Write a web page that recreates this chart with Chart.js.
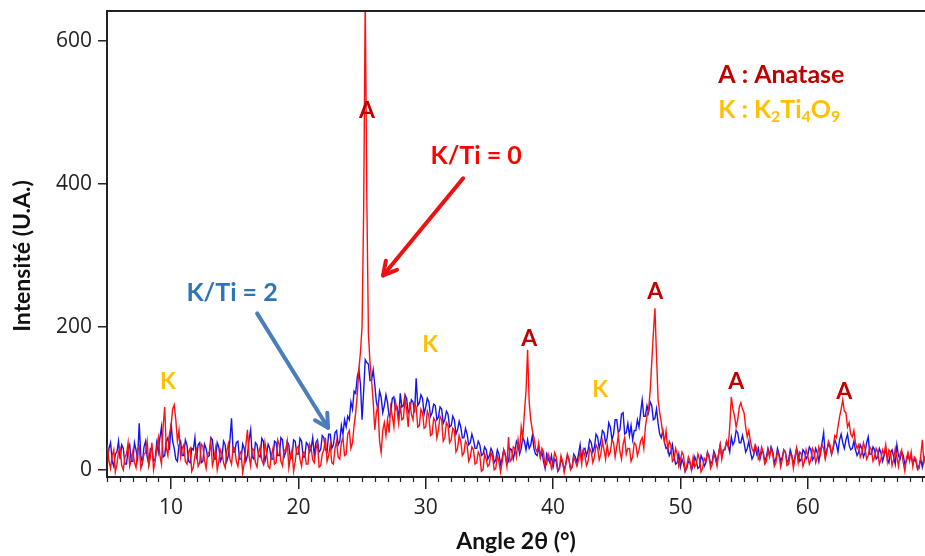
<!DOCTYPE html>
<html><head><meta charset="utf-8">
<script src="https://cdn.jsdelivr.net/npm/chart.js@4/dist/chart.umd.min.js"></script>
<style>html,body{margin:0;padding:0;background:#fff}#wrap{width:925px;height:556px;position:relative}</style>
</head><body><div id="wrap"><canvas id="c"></canvas></div>
<script>
// ---- data (2θ scan, degrees) ----
const angles = [
5,5.125,5.25,5.375,5.5,5.625,5.75,5.875, 6,6.125,6.25,6.375,6.5,6.625,6.75,6.875,
7,7.125,7.25,7.375,7.5,7.625,7.75,7.875, 8,8.125,8.25,8.375,8.5,8.625,8.75,8.875,
9,9.125,9.25,9.375,9.5,9.625,9.75,9.875, 10,10.125,10.25,10.375,10.5,10.625,10.75,10.875,
11,11.125,11.25,11.375,11.5,11.625,11.75,11.875, 12,12.125,12.25,12.375,12.5,12.625,12.75,12.875,
13,13.125,13.25,13.375,13.5,13.625,13.75,13.875, 14,14.125,14.25,14.375,14.5,14.625,14.75,14.875,
15,15.125,15.25,15.375,15.5,15.625,15.75,15.875, 16,16.125,16.25,16.375,16.5,16.625,16.75,16.875,
17,17.125,17.25,17.375,17.5,17.625,17.75,17.875, 18,18.125,18.25,18.375,18.5,18.625,18.75,18.875,
19,19.125,19.25,19.375,19.5,19.625,19.75,19.875, 20,20.125,20.25,20.375,20.5,20.625,20.75,20.875,
21,21.125,21.25,21.375,21.5,21.625,21.75,21.875, 22,22.125,22.25,22.375,22.5,22.625,22.75,22.875,
23,23.125,23.25,23.375,23.5,23.625,23.75,23.875, 24,24.125,24.25,24.375,24.5,24.625,24.75,24.875,
25,25.125,25.25,25.375,25.5,25.625,25.75,25.875, 26,26.125,26.25,26.375,26.5,26.625,26.75,26.875,
27,27.125,27.25,27.375,27.5,27.625,27.75,27.875, 28,28.125,28.25,28.375,28.5,28.625,28.75,28.875,
29,29.125,29.25,29.375,29.5,29.625,29.75,29.875, 30,30.125,30.25,30.375,30.5,30.625,30.75,30.875,
31,31.125,31.25,31.375,31.5,31.625,31.75,31.875, 32,32.125,32.25,32.375,32.5,32.625,32.75,32.875,
33,33.125,33.25,33.375,33.5,33.625,33.75,33.875, 34,34.125,34.25,34.375,34.5,34.625,34.75,34.875,
35,35.125,35.25,35.375,35.5,35.625,35.75,35.875, 36,36.125,36.25,36.375,36.5,36.625,36.75,36.875,
37,37.125,37.25,37.375,37.5,37.625,37.75,37.875, 38,38.125,38.25,38.375,38.5,38.625,38.75,38.875,
39,39.125,39.25,39.375,39.5,39.625,39.75,39.875, 40,40.125,40.25,40.375,40.5,40.625,40.75,40.875,
41,41.125,41.25,41.375,41.5,41.625,41.75,41.875, 42,42.125,42.25,42.375,42.5,42.625,42.75,42.875,
43,43.125,43.25,43.375,43.5,43.625,43.75,43.875, 44,44.125,44.25,44.375,44.5,44.625,44.75,44.875,
45,45.125,45.25,45.375,45.5,45.625,45.75,45.875, 46,46.125,46.25,46.375,46.5,46.625,46.75,46.875,
47,47.125,47.25,47.375,47.5,47.625,47.75,47.875, 48,48.125,48.25,48.375,48.5,48.625,48.75,48.875,
49,49.125,49.25,49.375,49.5,49.625,49.75,49.875, 50,50.125,50.25,50.375,50.5,50.625,50.75,50.875,
51,51.125,51.25,51.375,51.5,51.625,51.75,51.875, 52,52.125,52.25,52.375,52.5,52.625,52.75,52.875,
53,53.125,53.25,53.375,53.5,53.625,53.75,53.875, 54,54.125,54.25,54.375,54.5,54.625,54.75,54.875,
55,55.125,55.25,55.375,55.5,55.625,55.75,55.875, 56,56.125,56.25,56.375,56.5,56.625,56.75,56.875,
57,57.125,57.25,57.375,57.5,57.625,57.75,57.875, 58,58.125,58.25,58.375,58.5,58.625,58.75,58.875,
59,59.125,59.25,59.375,59.5,59.625,59.75,59.875, 60,60.125,60.25,60.375,60.5,60.625,60.75,60.875,
61,61.125,61.25,61.375,61.5,61.625,61.75,61.875, 62,62.125,62.25,62.375,62.5,62.625,62.75,62.875,
63,63.125,63.25,63.375,63.5,63.625,63.75,63.875, 64,64.125,64.25,64.375,64.5,64.625,64.75,64.875,
65,65.125,65.25,65.375,65.5,65.625,65.75,65.875, 66,66.125,66.25,66.375,66.5,66.625,66.75,66.875,
67,67.125,67.25,67.375,67.5,67.625,67.75,67.875, 68,68.125,68.25,68.375,68.5,68.625,68.75,68.875,
69,69.125,69.25
];
// K/Ti = 0 (red trace)
const intensityKTi0 = [
35,12,2,20,28,-3,8,25, 30,6,0,18,22,38,5,14,
26,10,3,30,33,2,10,22, 24,40,6,18,38,0,12,30,
45,20,8,60,88,30,20,50, 62,85,91,70,40,55,18,30,
35,12,8,25,30,-2,4,20, 28,5,10,36,33,14,2,22,
25,40,6,15,30,0,12,28, 22,10,3,26,36,15,8,32,
30,12,5,22,26,-4,10,35, 56,20,6,30,28,10,4,24,
32,14,8,38,25,5,2,20, 30,8,10,42,35,12,6,28,
26,40,3,18,28,-2,12,30, 33,15,5,25,24,8,8,36,
30,14,10,28,38,4,6,22, 28,45,12,20,35,10,8,30,
40,18,15,38,45,20,22,50, 55,30,38,62,80,105,140,165,
200,360,660,380,190,150,125,95, 56,80,90,40,24,55,66,48,
70,52,88,75,60,95,84,65, 90,70,72,100,84,60,95,78,
70,92,88,60,62,85,80,58, 60,82,75,48,50,72,68,45,
56,75,70,40,45,66,62,38, 42,58,55,25,30,48,40,20,
24,40,35,12,18,32,28,8, 10,25,20,-2,0,22,15,5,
8,24,18,0,2,20,12,-3, 10,28,20,5,46,12,15,32,
30,18,42,25,60,45,80,110, 168,95,70,55,45,30,25,38,
18,30,25,5,8,22,15,2, 10,24,18,0,2,20,12,-4,
8,22,15,0,4,18,12,5, 14,25,8,28,20,6,12,30,
25,10,18,35,30,14,22,40, 28,15,35,20,25,42,38,18,
32,48,26,15,36,45,22,30, 30,12,18,38,35,20,28,40,
45,30,60,75,84,110,150,190, 226,160,98,80,66,50,40,55,
28,40,35,12,15,30,22,5, 14,25,20,-2,5,18,12,0,
18,4,8,22,15,-3,2,16, 12,24,20,2,8,22,15,5,
22,35,15,28,30,40,32,60, 102,85,75,60,70,88,94,85,
80,60,46,55,40,30,25,35, 30,15,18,32,25,8,12,28,
18,30,22,5,10,25,20,4, 14,28,25,6,8,22,20,2,
16,30,10,25,22,5,12,28, 20,8,14,30,25,10,18,32,
22,35,30,15,25,40,35,22, 32,48,45,60,74,85,98,82,
80,60,66,50,46,55,38,30, 35,18,24,38,30,15,20,32,
28,12,18,30,25,8,15,28, 22,35,12,28,25,6,15,30,
18,5,22,28,10,-2,16,24, 12,25,5,18,15,0,2,20,
42,10,20
];
// K/Ti = 2 (blue trace)
const intensityKTi2 = [
10,30,38,12,5,22,25,40, 15,35,30,8,8,28,35,12,
12,38,28,15,65,20,10,32, 40,18,8,30,30,12,15,38,
25,45,60,18,20,40,45,28, 65,40,30,15,12,35,40,20,
20,42,35,12,10,30,28,45, 15,35,38,10,12,36,30,18,
20,45,42,15,15,38,32,12, 18,40,35,12,20,42,72,25,
25,38,40,15,15,36,30,12, 20,42,56,18,15,38,35,20,
18,44,40,12,22,36,30,15, 15,40,38,20,20,45,42,18,
25,40,35,15,18,42,40,22, 22,44,40,18,18,38,35,25,
30,45,20,38,42,25,28,48, 45,28,25,50,50,30,35,52,
55,35,40,62,50,70,60,75, 70,95,85,110,107,130,140,120,
70,110,154,150,148,125,126,140, 119,95,84,110,102,80,90,105,
94,75,80,100,102,85,88,70, 107,88,90,105,100,80,85,98,
95,80,128,90,94,105,100,78, 88,100,95,75,80,92,90,70,
74,88,85,65,70,82,78,60, 62,75,70,50,56,68,60,45,
45,58,50,35,38,50,42,30, 30,40,35,20,22,32,28,15,
20,30,25,10,14,28,22,8, 16,28,22,8,12,30,28,15,
25,40,35,22,30,45,40,28, 42,30,35,48,30,22,20,32,
18,25,12,2,22,15,10,20, 4,15,12,-2,2,14,10,0,
8,20,14,2,4,22,18,10, 22,35,15,28,30,20,28,42,
38,25,32,50,46,30,40,55, 52,38,45,66,60,42,50,70,
70,52,56,78,80,50,52,65, 48,62,42,55,55,70,60,80,
98,75,75,90,80,95,90,70, 72,85,65,50,45,55,38,30,
32,20,25,35,18,8,10,22, 4,15,8,-2,2,12,10,0,
6,18,12,2,4,20,15,5, 10,25,18,8,12,26,20,10,
22,35,18,28,28,40,35,25, 46,35,40,55,52,38,38,48,
38,25,30,40,25,15,20,32, 22,30,15,25,25,12,18,30,
20,32,26,10,15,30,22,12, 18,28,24,10,14,28,20,8,
18,30,22,12,15,28,25,15, 20,32,28,14,18,30,24,12,
26,38,52,20,28,36,32,22, 30,42,36,25,42,50,38,30,
42,50,35,28,30,40,28,20, 25,35,30,18,24,38,46,22,
22,32,28,15,18,30,24,12, 20,30,15,10,24,28,18,8,
35,20,15,25,20,8,12,22, 14,20,8,15,12,2,6,15,
4,18,10
];
const xTickValues = [10, 20, 30, 40, 50, 60];
const yTickValues = [0, 200, 400, 600];
// peak annotations: [label, angle, intensity]
const anataseLabels = [["A",25.38,502],["A",38.12,184],["A",48.02,250],["A",54.38,124],["A",62.87,110]];
const k2ti4o9Labels = [["K",9.76,124],["K",30.35,175],["K",43.7,112]];

// ---- chart ----
const toXY = (xs, ys) => xs.map((v, i) => ({x: v, y: ys[i]}));
const FONT_T = "Lato, 'Open Sans', sans-serif";

const annotPlugin = {
  id: 'annot',
  afterDraw(chart) {
    const {ctx, chartArea: a, scales: {x, y}} = chart;
    ctx.save();
    // top frame line
    ctx.strokeStyle = '#222'; ctx.lineWidth = 2;
    ctx.beginPath(); ctx.moveTo(a.left, a.top); ctx.lineTo(a.right, a.top); ctx.stroke();
    // minor x ticks each degree
    ctx.lineWidth = 1.2;
    for (let v = 5; v <= 69; v++) {
      if (v % 10 === 0) continue;
      const px = Math.round(x.getPixelForValue(v)) + 0.5;
      ctx.beginPath(); ctx.moveTo(px, a.bottom); ctx.lineTo(px, a.bottom + 5); ctx.stroke();
    }
    const txt = (s, xv, yv, color, size, align) => {
      ctx.font = `bold ${size}px ${FONT_T}`;
      ctx.fillStyle = color; ctx.textAlign = align || 'center'; ctx.textBaseline = 'middle';
      ctx.fillText(s, x.getPixelForValue(xv), y.getPixelForValue(yv));
    };
    anataseLabels.forEach(l => txt(l[0], l[1], l[2], '#c00000', 23));
    k2ti4o9Labels.forEach(l => txt(l[0], l[1], l[2], '#ffc000', 23));
    txt('K/Ti = 0', 33.96, 439, '#ff0000', 25);
    txt('K/Ti = 2', 14.79, 247, '#2e75b6', 25);
    const arrow = (x1, y1, x2, y2, color) => {
      const p1 = [x.getPixelForValue(x1), y.getPixelForValue(y1)];
      const p2 = [x.getPixelForValue(x2), y.getPixelForValue(y2)];
      ctx.strokeStyle = color; ctx.lineWidth = 4; ctx.lineCap = 'round'; ctx.lineJoin = 'round';
      ctx.beginPath(); ctx.moveTo(p1[0], p1[1]); ctx.lineTo(p2[0], p2[1]); ctx.stroke();
      const ang = Math.atan2(p2[1] - p1[1], p2[0] - p1[0]);
      const L = 15;
      ctx.beginPath();
      ctx.moveTo(p2[0] - L * Math.cos(ang - 0.5), p2[1] - L * Math.sin(ang - 0.5));
      ctx.lineTo(p2[0], p2[1]);
      ctx.lineTo(p2[0] - L * Math.cos(ang + 0.5), p2[1] - L * Math.sin(ang + 0.5));
      ctx.stroke();
    };
    arrow(32.94, 408, 26.65, 272, '#ee1111');
    arrow(16.76, 219, 22.33, 59, '#4a7ebb');
    // legend text
    const lx = x.getPixelForValue(52.97);
    const ly1 = y.getPixelForValue(552), ly2 = y.getPixelForValue(504);
    ctx.textAlign = 'left'; ctx.textBaseline = 'middle';
    ctx.font = `bold 25px ${FONT_T}`; ctx.fillStyle = '#c00000';
    ctx.fillText('A : Anatase', lx, ly1);
    ctx.fillStyle = '#ffc000';
    let cx = lx;
    const seg = (s, sub) => {
      ctx.font = sub ? `bold 16px ${FONT_T}` : `bold 25px ${FONT_T}`;
      ctx.fillText(s, cx, sub ? ly2 + 7 : ly2);
      cx += ctx.measureText(s).width;
    };
    seg('K : K'); seg('2', true); seg('Ti'); seg('4', true); seg('O'); seg('9', true);
    // axis titles
    ctx.fillStyle = '#111'; ctx.font = `bold 23px ${FONT_T}`;
    ctx.textAlign = 'center'; ctx.textBaseline = 'middle';
    ctx.fillText('Angle 2θ (°)', (a.left + a.right) / 2, 542);
    ctx.translate(23, 256); ctx.rotate(-Math.PI / 2);
    ctx.fillText('Intensité (U.A.)', 0, 0);
    ctx.restore();
  }
};

new Chart(document.getElementById('c'), {
  type: 'line',
  data: {
    datasets: [
      {label: 'K/Ti = 0', data: toXY(angles, intensityKTi0), borderColor: '#ff1010', borderWidth: 1.4, pointRadius: 0, tension: 0, order: 0},
      {label: 'K/Ti = 2', data: toXY(angles, intensityKTi2), borderColor: '#1414f0', borderWidth: 1.4, pointRadius: 0, tension: 0, order: 1}
    ]
  },
  options: {
    responsive: true, maintainAspectRatio: false, animation: false,
    layout: {padding: {top: 11, left: 0, right: 0, bottom: 0}},
    plugins: {legend: {display: false}, tooltip: {enabled: false}},
    scales: {
      x: {
        type: 'linear', min: 4.97, max: 69.21,
        afterBuildTicks: s => { s.ticks = xTickValues.map(v => ({value: v})); },
        afterFit: s => { s.height = 79; s.paddingLeft = 0; s.paddingRight = 0; },
        grid: {drawOnChartArea: false, drawTicks: true, tickLength: 12, color: '#222', lineWidth: 1.5},
        border: {display: true, color: '#222', width: 2},
        ticks: {font: {family: "'Open Sans'", size: 21}, color: '#222', padding: 6, maxRotation: 0}
      },
      y: {
        type: 'linear', min: -10, max: 642,
        afterBuildTicks: s => { s.ticks = yTickValues.map(v => ({value: v})); },
        afterFit: s => { s.width = 107; s.paddingTop = 0; s.paddingBottom = 0; },
        grid: {drawOnChartArea: false, drawTicks: true, tickLength: 9, color: '#222', lineWidth: 1.5},
        border: {display: true, color: '#222', width: 2},
        ticks: {font: {family: "'Open Sans'", size: 21}, color: '#222', padding: 6}
      }
    }
  },
  plugins: [annotPlugin]
});
</script>
</body></html>
